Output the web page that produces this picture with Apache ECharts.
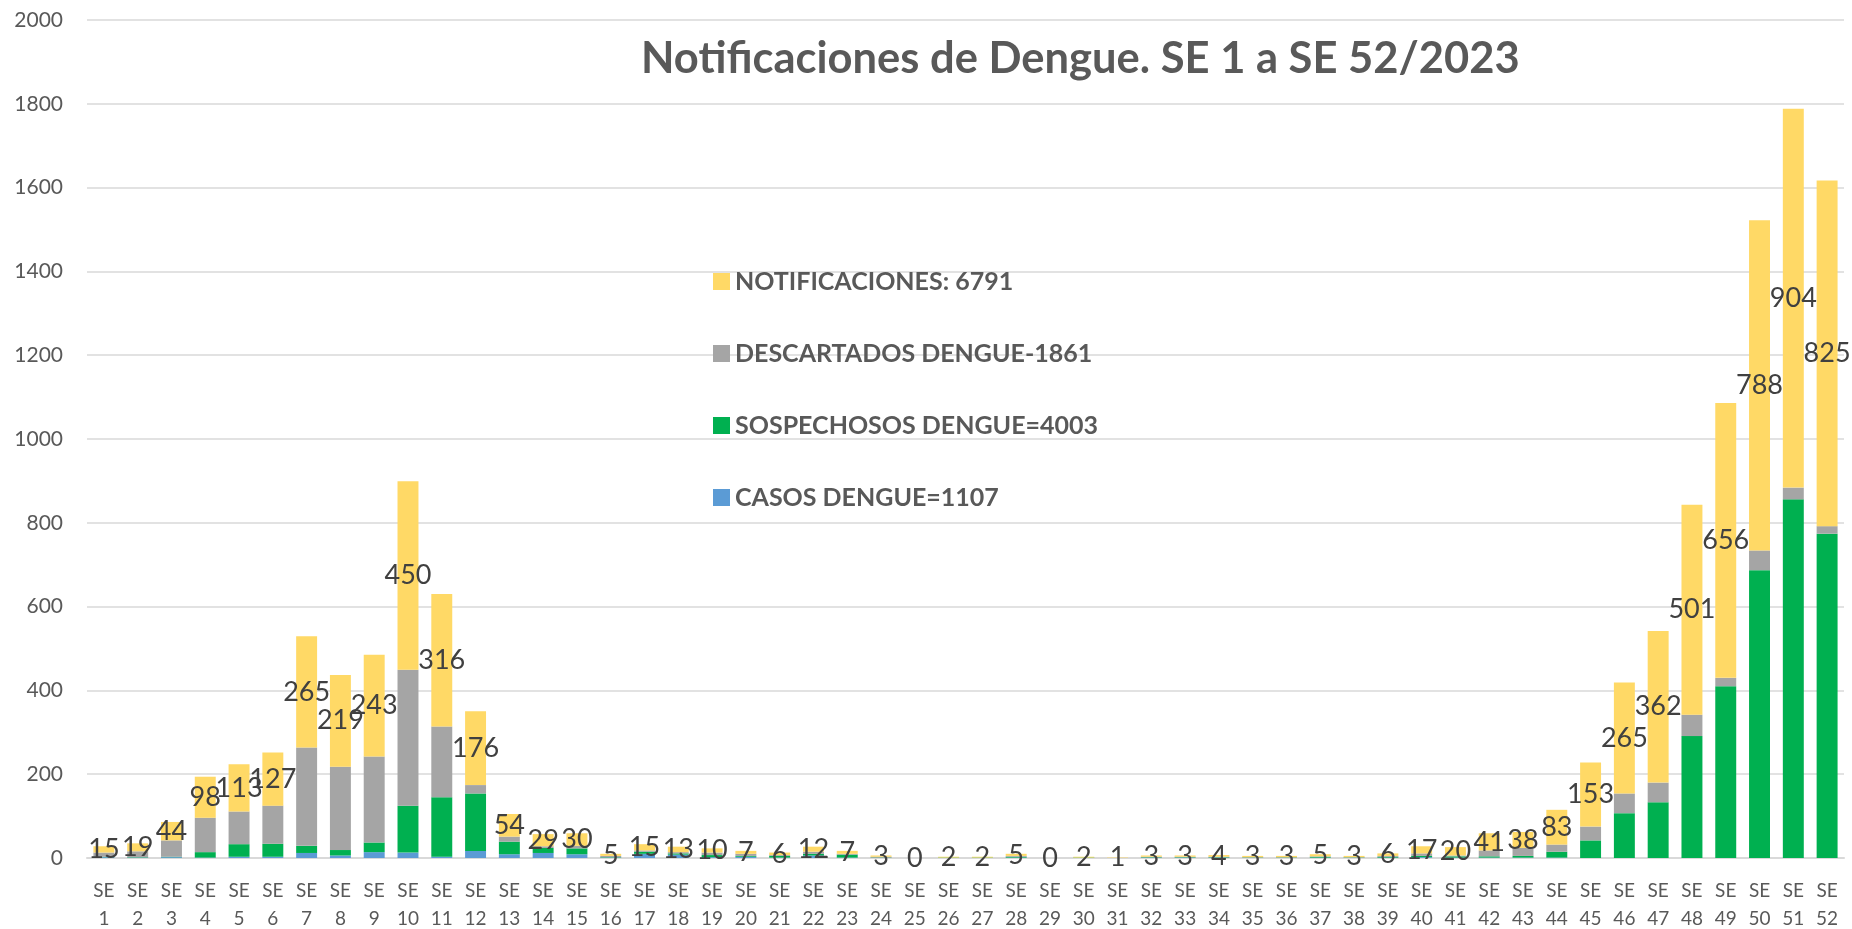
<!DOCTYPE html>
<html>
<head>
    <meta charset="UTF-8">
    <title>Notificaciones de Dengue</title>
    <script src="https://cdn.jsdelivr.net/npm/echarts@6/dist/echarts.min.js"></script>
    <style>
        html, body { margin: 0; padding: 0; background: #fff; }
        #chart { width: 1852px; height: 929px; }
    </style>
</head>
<body>
<div id="chart"></div>
<script>
    // semanas epidemiologicas
    const weeks = []
    for (let i = 1; i <= 52; i++) weeks.push('SE\n' + i)

    // valores por segmento
    const casos = [2, 1, 2, 1, 3, 3, 12, 6, 14, 13, 3, 17, 9, 12, 9, 1, 10, 8, 2, 3,
        1, 6, 1, 0, 0, 0, 0, 1, 0, 0, 0, 1, 1, 1, 0, 0, 1, 0, 1, 2,
        1, 1, 1, 1, 0, 0, 0, 0, 0, 0, 0, 0]
    const sospechosos = [1, 1, 1, 13, 30, 31, 17, 13, 23, 112, 142, 137, 30, 12, 14, 1, 5, 3, 5, 2,
        4, 4, 7, 1, 0, 1, 1, 2, 0, 1, 0, 1, 1, 1, 1, 1, 2, 1, 2, 3,
        3, 3, 4, 14, 42, 107, 133, 291, 410, 687, 856, 774]
    const descartados = [10, 14, 39, 82, 78, 91, 235, 199, 205, 324, 169, 20, 12, 4, 6, 3, 3, 3, 6, 5,
        2, 5, 2, 2, 0, 0, 0, 2, 0, 0, 0, 1, 1, 1, 1, 1, 1, 1, 2, 6,
        2, 14, 19, 17, 33, 47, 47, 51, 20, 47, 28, 18]
    const notificaciones = [15, 19, 44, 98, 113, 127, 265, 219, 243, 450, 316, 176, 54, 29, 30, 5, 15, 13, 10, 7,
        6, 12, 7, 3, 0, 2, 2, 5, 0, 2, 1, 3, 3, 4, 3, 3, 5, 3, 6, 17,
        20, 41, 38, 83, 153, 265, 362, 501, 656, 788, 904, 825]

    const names = {
        not: 'NOTIFICACIONES: 6791',
        desc: 'DESCARTADOS DENGUE-1861',
        sosp: 'SOSPECHOSOS DENGUE=4003',
        casos: 'CASOS DENGUE=1107',
    }
    const FONT = 'Lato, "Open Sans", sans-serif'

    let chart = echarts.init(document.getElementById('chart'), null, {renderer: 'canvas'})

    let bar = (name, data, color) => ({
        name,
        type: 'bar',
        stack: 'total',
        data,
        barWidth: '62%',
        itemStyle: {color},
    })

    let option = {
        animation: false,
        textStyle: {fontFamily: FONT},
        title: {
            text: 'Notificaciones de Dengue. SE 1 a SE 52/2023',
            left: 636,
            top: 32,
            textStyle: {fontFamily: FONT, fontSize: 43.5, fontWeight: 'bold', color: '#595959'},
        },
        legend: {
            orient: 'vertical',
            left: 708,
            top: 264,
            itemWidth: 17,
            itemHeight: 17,
            itemGap: 47,
            icon: 'rect',
            data: [names.not, names.desc, names.sosp, names.casos],
            textStyle: {fontFamily: FONT, fontSize: 25, fontWeight: 'bold', color: '#595959', lineHeight: 20},
        },
        grid: {left: 87, right: 8, top: 20, bottom: 71, outerBoundsMode: 'none'},
        xAxis: {
            type: 'category',
            data: weeks,
            axisLine: {show: true, lineStyle: {color: '#d9d9d9', width: 2}},
            axisTick: {show: false},
            axisLabel: {interval: 0, color: '#595959', fontSize: 19, lineHeight: 28, margin: 19},
        },
        yAxis: {
            type: 'value',
            min: 0,
            max: 2000,
            interval: 200,
            axisLine: {show: false},
            axisTick: {show: false},
            axisLabel: {color: '#595959', fontSize: 21, margin: 24, formatter: v => String(v)},
            splitLine: {lineStyle: {color: '#d9d9d9', width: 1.5}},
        },
        series: [
            bar(names.casos, casos, '#5b9bd5'),
            bar(names.sosp, sospechosos, '#00b050'),
            bar(names.desc, descartados, '#a5a5a5'),
            Object.assign(bar(names.not, notificaciones, '#ffd966'), {
                label: {
                    show: true,
                    position: 'inside',
                    color: '#404040',
                    fontSize: 27,
                    fontFamily: FONT,
                },
            }),
        ],
    }
    chart.setOption(option)
</script>
</body>
</html>
